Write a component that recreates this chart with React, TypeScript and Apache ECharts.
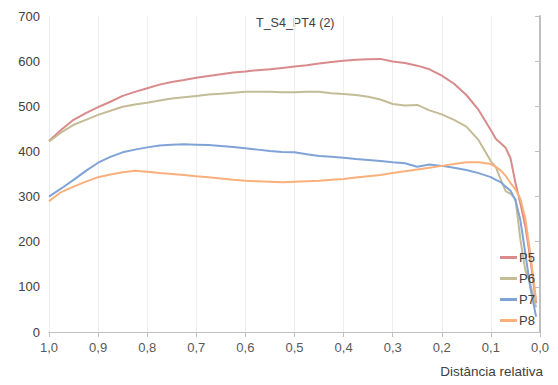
import React, { useEffect, useRef } from "react";
import * as echarts from "echarts";

const distances = [
  1.0, 0.975, 0.95, 0.925, 0.9, 0.875, 0.85, 0.825, 0.8, 0.775, 0.75, 0.725, 0.7, 0.675, 0.65, 0.625,
  0.6, 0.575, 0.55, 0.525, 0.5, 0.475, 0.45, 0.425, 0.4, 0.375, 0.35, 0.325, 0.3, 0.275, 0.25, 0.225,
  0.2, 0.175, 0.15, 0.125, 0.1, 0.09, 0.08, 0.07, 0.06, 0.05, 0.04, 0.03, 0.02, 0.008,
];

const p5 = [
  423, 448, 470, 485, 498, 510, 523, 532, 540, 548, 554, 558, 563, 567, 571, 575,
  577, 580, 582, 585, 588, 591, 595, 598, 601, 603, 604, 605, 599, 596, 590, 582,
  568, 550, 525, 492, 447, 428, 418, 408, 385, 330, 285, 235, 165, 64,
];
const p6 = [
  422, 442, 459, 470, 481, 490, 499, 504, 508, 513, 517, 520, 523, 526, 528, 530,
  532, 532, 532, 531, 531, 532, 532, 529, 527, 525, 521, 515, 505, 502, 503, 491,
  482, 470, 455, 425, 378, 365, 338, 312, 306, 295, 205, 137, 108, 55,
];
const p7 = [
  300, 318, 337, 357, 375, 388, 398, 404, 409, 413, 415, 416, 415, 414, 412, 410,
  407, 404, 401, 399, 398, 394, 390, 388, 386, 383, 381, 379, 376, 374, 366, 371,
  368, 364, 359, 352, 343, 337, 332, 322, 313, 292, 248, 175, 100, 34,
];
const p8 = [
  290, 310, 322, 333, 343, 349, 354, 357, 355, 352, 350, 348, 345, 343, 340, 337,
  335, 334, 333, 332, 333, 334, 335, 337, 339, 342, 345, 348, 352, 356, 360, 364,
  368, 372, 376, 376, 372, 366, 358, 346, 330, 316, 295, 252, 175, 71,
];

const seriesNames = ["P5", "P6", "P7", "P8"];
const seriesValues = [p5, p6, p7, p8];
const seriesColors = ["#D98A8B", "#C4BC96", "#7FA3D6", "#FBB07C"];

const chartTitle = "T_S4_PT4 (2)";
const xAxisName = "Distância relativa";

export default function App() {
  const ref = useRef<HTMLDivElement>(null);
  useEffect(() => {
    if (!ref.current) return;
    const chart = echarts.init(ref.current, undefined, { renderer: "svg" });
    const font = "Liberation Sans, Arial, sans-serif";
    chart.setOption({
      animation: false,
      textStyle: { fontFamily: font },
      grid: { left: 49, right: 18, top: 16, bottom: 53, containLabel: false },
      legend: {
        orient: "vertical",
        left: 495,
        top: 246,
        itemWidth: 17,
        itemHeight: 3,
        itemGap: 8,
        icon: "rect",
        textStyle: { fontSize: 13, color: "#404040", fontFamily: font, padding: [0, 0, 0, -3] },
        data: seriesNames,
      },
      graphic: [
        {
          type: "text",
          left: 298 - 42,
          top: 16,
          style: { text: chartTitle, fontSize: 12.5, fill: "#404040", fontFamily: font },
        },
        {
          type: "text",
          right: 15,
          top: 364,
          style: { text: xAxisName, fontSize: 13.5, fill: "#404040", fontFamily: font },
        },
      ],
      xAxis: {
        type: "value",
        inverse: true,
        min: 0,
        max: 1,
        interval: 0.1,
        axisLine: { show: true, lineStyle: { color: "#BFBFBF", width: 1 } },
        axisTick: { show: true, length: 5, lineStyle: { color: "#BFBFBF" } },
        axisLabel: {
          fontSize: 13,
          color: "#595959",
          margin: 9,
          formatter: (v: number) => v.toFixed(1).replace(".", ","),
        },
        splitLine: { show: true, lineStyle: { color: "#EEEEEE", width: 1 } },
      },
      yAxis: {
        type: "value",
        min: 0,
        max: 700,
        interval: 100,
        axisLine: { show: true, lineStyle: { color: "#BFBFBF", width: 2 } },
        axisTick: { show: true, length: 5, lineStyle: { color: "#BFBFBF" } },
        axisLabel: { fontSize: 13, color: "#404040", margin: 9 },
        splitLine: { show: false },
      },
      series: seriesNames.map((name, i) => ({
        name,
        type: "line",
        showSymbol: false,
        symbol: "none",
        data: distances.map((d, j) => [d, seriesValues[i][j]]),
        lineStyle: { color: seriesColors[i], width: 2 },
        itemStyle: { color: seriesColors[i] },
      })),
    });
    return () => chart.dispose();
  }, []);
  return <div ref={ref} style={{ width: 558, height: 385, position: "absolute", left: 0, top: 0 }} />;
}
